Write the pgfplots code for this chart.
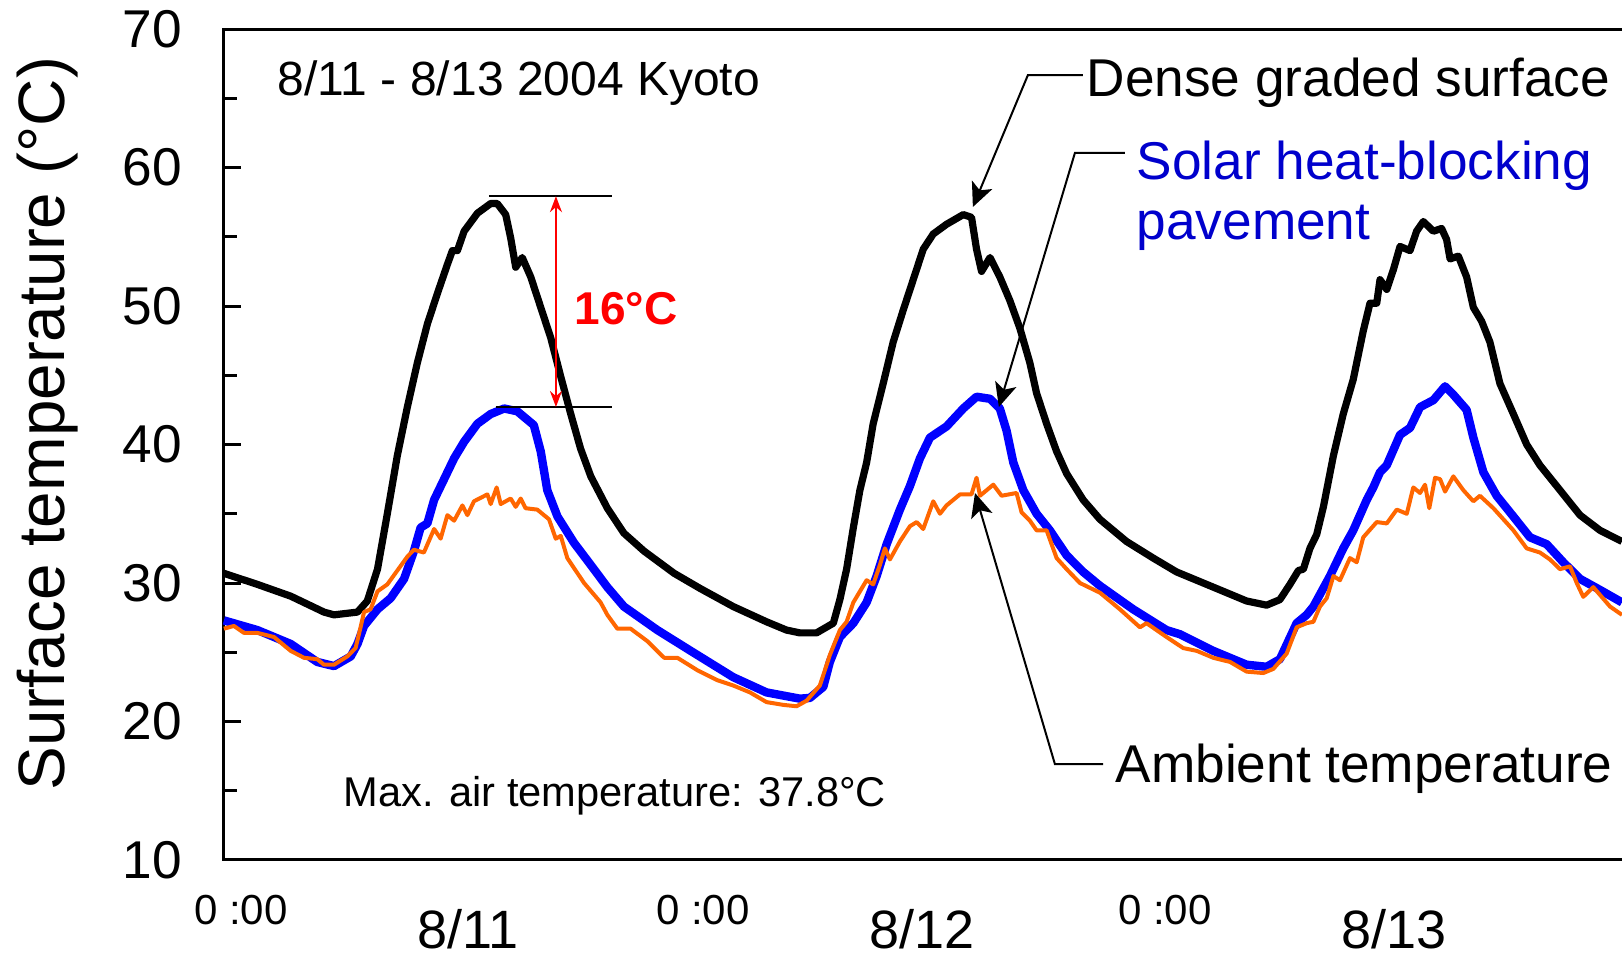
\documentclass[border=0pt]{standalone}
\usepackage{pgfplots}
\pgfplotsset{compat=1.18}
\usepackage{fontspec}
\setmainfont{Liberation Sans}
\usetikzlibrary{arrows.meta}
\definecolor{orng}{RGB}{255,102,0}
\definecolor{bluetxt}{RGB}{0,0,204}
\definecolor{blueline}{RGB}{0,0,255}

\pgfplotstableread{
h T
-1.2 30.7
0.54 29.9
2.27 29.05
4.0 27.9
4.52 27.7
5.74 27.9
6.25 28.7
6.78 31.0
7.29 35.0
7.81 39.2
8.33 42.7
8.85 45.9
9.37 48.7
9.89 50.9
10.41 53.0
10.67 54.0
10.93 54.0
11.28 55.4
11.97 56.7
12.66 57.4
13.0 57.4
13.44 56.6
13.70 54.9
13.96 52.8
14.3 53.5
14.74 52.1
15.26 49.9
15.78 47.7
16.3 44.9
16.82 42.2
17.33 39.7
17.86 37.7
18.72 35.4
19.58 33.6
20.63 32.3
22.19 30.7
23.55 29.6
25.26 28.3
26.99 27.2
28.03 26.6
28.72 26.4
29.59 26.4
30.46 27.1
30.8 28.8
31.15 31.0
31.5 34.0
31.84 36.7
32.19 38.7
32.53 41.5
33.05 44.4
33.57 47.4
34.09 49.7
34.61 51.9
35.13 54.1
35.65 55.2
36.34 55.9
37.21 56.6
37.64 56.4
37.9 54.1
38.16 52.5
38.6 53.5
39.11 52.1
39.63 50.4
40.15 48.4
40.67 45.9
41.02 43.7
41.54 41.5
42.06 39.5
42.58 37.9
43.44 36.0
44.31 34.6
45.69 33.0
47.08 31.8
48.29 30.8
50.2 29.7
51.93 28.7
52.97 28.4
53.66 28.8
54.18 29.9
54.62 30.9
54.88 31.0
55.22 32.5
55.57 33.5
55.92 35.5
56.44 39.2
56.95 42.2
57.47 44.7
57.99 48.2
58.34 50.2
58.69 50.2
58.86 51.9
59.21 51.2
59.55 52.6
59.9 54.3
60.42 54.0
60.76 55.4
61.11 56.1
61.63 55.4
62.06 55.6
62.32 54.8
62.5 53.4
62.93 53.6
63.36 52.1
63.71 49.9
64.14 48.9
64.57 47.4
65.09 44.4
65.79 42.2
66.48 40.0
67.17 38.5
68.04 37.0
69.25 34.9
70.29 33.8
71.43 33.0
}\dense

\pgfplotstableread{
h T
-1.2 27.3
0.54 26.6
2.27 25.6
3.65 24.3
4.52 24.0
5.39 24.7
5.74 25.6
6.08 26.9
6.78 28.1
7.46 28.9
8.16 30.3
8.67 32.3
9.02 34.0
9.37 34.3
9.72 36.0
10.24 37.5
10.76 39.0
11.28 40.2
11.97 41.5
12.66 42.2
13.36 42.6
14.04 42.4
14.9 41.4
15.26 39.5
15.6 36.7
16.13 34.8
16.99 32.9
17.86 31.3
18.72 29.7
19.58 28.3
21.32 26.6
23.05 25.1
25.26 23.2
26.99 22.1
28.72 21.65
29.24 21.7
29.94 22.5
30.28 24.3
30.8 26.1
31.5 27.1
32.19 28.6
32.71 30.5
33.23 32.8
33.92 35.3
34.44 37.0
34.96 39.0
35.48 40.5
36.34 41.3
37.21 42.6
37.9 43.45
38.6 43.3
39.11 42.6
39.46 41.0
39.81 38.7
40.33 36.7
41.02 35.0
41.71 33.8
42.58 32.0
43.44 30.8
44.31 29.8
46.04 28.1
47.77 26.6
48.47 26.3
50.2 25.1
51.93 24.1
52.97 23.95
53.66 24.5
54.53 27.1
55.05 27.7
55.4 28.3
56.26 30.5
56.95 32.5
57.47 33.8
58.17 36.0
58.51 36.9
58.86 38.0
59.21 38.5
59.9 40.7
60.42 41.2
60.94 42.7
61.63 43.2
62.24 44.2
62.67 43.6
63.36 42.5
63.71 40.5
64.23 38.0
64.92 36.3
65.79 34.8
66.65 33.3
67.52 32.8
68.38 31.5
69.25 30.3
70.29 29.5
71.43 28.6
}\solar

\pgfplotstableread{
h T
-1.2 26.7
-0.68 26.9
-0.16 26.4
0.54 26.4
1.4 26.1
2.27 25.1
2.96 24.6
3.65 24.5
4.0 24.1
4.52 24.1
5.21 24.7
5.64 25.3
5.9 26.8
6.08 27.9
6.42 28.1
6.78 29.4
7.29 29.9
7.81 30.9
8.33 31.9
8.67 32.4
9.19 32.2
9.72 33.9
10.06 33.2
10.41 34.9
10.76 34.5
11.19 35.6
11.45 34.9
11.79 35.9
12.49 36.4
12.66 35.7
12.97 36.9
13.18 35.7
13.70 36.1
13.96 35.5
14.22 36.1
14.47 35.4
15.08 35.3
15.69 34.6
16.04 33.2
16.3 33.4
16.64 31.8
17.51 30.0
18.37 28.6
18.72 27.7
19.24 26.7
19.93 26.7
20.8 25.8
21.67 24.6
22.36 24.6
23.4 23.7
24.4 23.0
25.26 22.6
26.13 22.1
26.99 21.4
27.86 21.2
28.55 21.1
29.07 21.5
29.76 22.6
30.28 24.8
30.8 26.6
31.15 27.2
31.5 28.6
32.19 30.2
32.53 29.9
32.88 31.3
33.14 32.5
33.4 31.7
33.92 33.0
34.44 34.1
34.79 34.4
35.13 33.9
35.65 35.9
36.0 35.0
36.34 35.6
37.04 36.4
37.64 36.4
37.9 37.6
38.08 36.3
38.77 37.1
39.2 36.3
39.98 36.5
40.24 35.1
40.67 34.5
41.02 33.8
41.54 33.8
42.06 31.8
42.58 31.0
43.27 30.0
44.31 29.3
45.35 28.1
46.39 26.8
46.73 27.1
47.77 26.1
48.64 25.3
49.34 25.1
50.2 24.6
51.07 24.3
51.93 23.6
52.8 23.5
53.32 23.8
54.01 24.9
54.53 26.8
55.05 27.1
55.4 27.2
55.74 28.3
56.09 28.9
56.44 30.5
56.78 30.2
57.3 31.8
57.65 31.5
57.99 33.3
58.69 34.4
59.21 34.3
59.73 35.3
60.25 35.0
60.59 36.9
60.94 36.5
61.2 37.1
61.42 35.4
61.72 37.6
61.98 37.5
62.24 36.6
62.67 37.7
63.19 36.7
63.71 35.9
64.05 36.3
64.75 35.4
65.27 34.6
65.79 33.8
66.48 32.5
67.17 32.2
67.69 31.7
68.21 31.0
68.73 31.2
69.08 30.0
69.42 29.0
69.94 29.7
70.81 28.3
71.43 27.7
}\ambient

\begin{document}
\begin{tikzpicture}
\begin{axis}[
  scale only axis,
  width=352pt, height=207.75pt,
  xmin=-1.195, xmax=71.95,
  ymin=10, ymax=70,
  clip=false,
  axis line style={line width=0.75pt},
  ytick={10,20,...,70},
  minor ytick={15,25,...,65},
  tick align=inside,
  ytick pos=left,
  major tick length=4.2pt,
  minor tick length=3.3pt,
  every tick/.style={black, line width=0.75pt},
  xtick={0,24,48},
  xticklabels={0 :00,0 :00,0 :00},
  xtick style={draw=none},
  xticklabel style={font=\fontsize{10.5}{12}\selectfont, anchor=center, yshift=-12.5pt, xshift=-1.5pt},
  yticklabel style={font=\fontsize{13.3}{15}\selectfont, xshift=-7pt},
  /pgf/number format/assume math mode=true,
]
\addplot[black, line width=1.8pt, line join=round] table[x=h, y=T] {\dense};
\addplot[blueline, line width=2.1pt, line join=round] table[x=h, y=T] {\solar};
\addplot[orng, line width=1pt, line join=round] table[x=h, y=T] {\ambient};

\coordinate (SW) at (rel axis cs:0,0);

% date labels
\node[font=\fontsize{13.5}{15}\selectfont, anchor=base] at ([yshift=-22.2pt]axis cs:11.46,10) {8/11};
\node[font=\fontsize{13.5}{15}\selectfont, anchor=base] at ([yshift=-22.2pt]axis cs:35.06,10) {8/12};
\node[font=\fontsize{13.5}{15}\selectfont, anchor=base] at ([yshift=-22.2pt]axis cs:59.6,10) {8/13};

% y label
\node[rotate=90, anchor=center, font=\fontsize{16.4}{18}\selectfont] at (axis cs:-10.34,41.5) {Surface temperature (°C)};

% texts
\node[anchor=base west, inner sep=0pt, font=\fontsize{12}{14}\selectfont] at (axis cs:1.56,65.23) {8/11 - 8/13 2004 Kyoto};
\node[anchor=base west, inner sep=0pt, font=\fontsize{13.3}{15}\selectfont] at (axis cs:43.58,65.1) {Dense graded surface};
\node[anchor=base west, inner sep=0pt, font=\fontsize{13.3}{15}\selectfont, text=bluetxt] at (axis cs:46.18,59.1) {Solar heat-blocking};
\node[anchor=base west, inner sep=0pt, font=\fontsize{13.3}{15}\selectfont, text=bluetxt] at (axis cs:46.18,54.77) {pavement};
\node[anchor=base west, inner sep=0pt, font=\fontsize{13.3}{15}\selectfont] at (axis cs:45.09,15.56) {Ambient temperature};
\node[anchor=base west, inner sep=0pt, font=\fontsize{10.4}{12}\selectfont] at (axis cs:4.99,13.83) {Max. air temperature: 37.8°C};
\node[anchor=base west, inner sep=0pt, font=\fontsize{11.5}{13}\selectfont\bfseries, text=red] at (axis cs:16.99,48.7) {16°C};

% 16 C marker
\draw[black, line width=0.5pt] (axis cs:12.57,57.93) -- (axis cs:18.96,57.93);
\draw[black, line width=0.5pt] (axis cs:12.92,42.71) -- (axis cs:18.96,42.71);
\draw[red, line width=0.5pt, {Stealth[length=4pt,width=3pt]}-{Stealth[length=4pt,width=3pt]}] (axis cs:16.05,57.93) -- (axis cs:16.05,42.71);

% leader arrows
\draw[black, line width=0.5pt, -{Stealth[length=6pt,width=5.5pt,inset=1.5pt]}] (axis cs:43.43,66.68) -- (axis cs:40.57,66.68) -- (axis cs:37.71,57.15);
\draw[black, line width=0.5pt, -{Stealth[length=6pt,width=5.5pt,inset=1.5pt]}] (axis cs:45.61,61.05) -- (axis cs:43.01,61.05) -- (axis cs:39.06,42.71);
\draw[black, line width=0.5pt, -{Stealth[length=6pt,width=5.5pt,inset=1.5pt]}] (axis cs:44.47,16.93) -- (axis cs:41.97,16.93) -- (axis cs:37.82,36.5);
\end{axis}
\pgfresetboundingbox
\useasboundingbox ([xshift=-56pt,yshift=-23.5pt]SW) rectangle ([xshift=349.5pt,yshift=215pt]SW);
\end{tikzpicture}
\end{document}
